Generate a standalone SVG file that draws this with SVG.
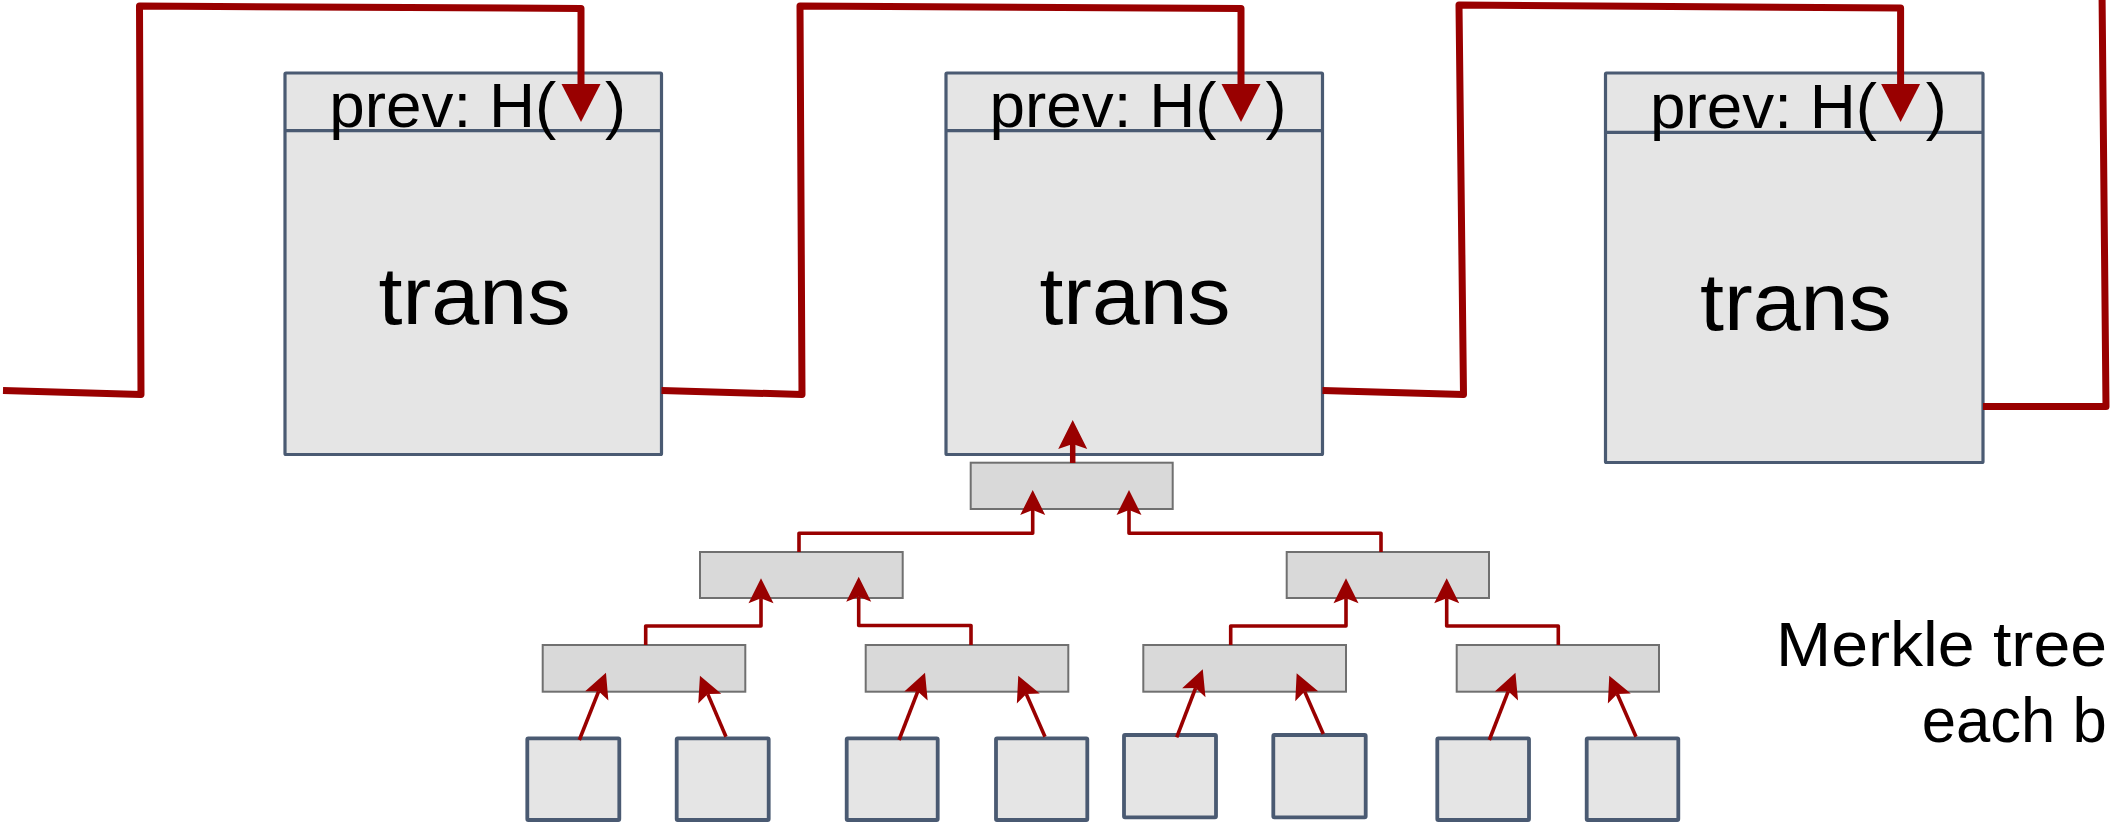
<svg xmlns="http://www.w3.org/2000/svg" width="2111" height="823" viewBox="0 0 2111 823">
  <defs>
    <style>
      .block { fill: #e5e5e5; stroke: #4a5a72; stroke-width: 3.2; }
      .divider { stroke: #4a5a72; stroke-width: 3.2; }
      .hash { fill: #d9d9d9; stroke: #707070; stroke-width: 2; }
      .leaf { fill: #e5e5e5; stroke: #4a5a72; stroke-width: 3.8; }
      .label { font-family: "Liberation Sans", Arial, sans-serif; fill: #000; }
      .hdr { font-size: 63px; }
      .big { font-size: 82px; }
      .chain { fill: none; stroke: #990000; stroke-width: 7; stroke-linejoin: round; }
      .edge { fill: none; stroke: #990000; stroke-width: 3.6; stroke-linejoin: round; }
      .root { fill: none; stroke: #990000; stroke-width: 5.5; }
    </style>
    <marker id="headBig" markerUnits="userSpaceOnUse" orient="auto" refX="0" refY="0" markerWidth="40" markerHeight="40" viewBox="0 -20 40 40" overflow="visible">
      <path d="M38,0 L0,-19.5 L0,19.5 Z" fill="#990000"/>
    </marker>
    <marker id="headRoot" markerUnits="userSpaceOnUse" orient="auto" refX="5" refY="0" markerWidth="30" markerHeight="30" viewBox="0 -15 30 30" overflow="visible">
      <path d="M29,0 L0,-14.5 L5,0 L0,14.5 Z" fill="#990000"/>
    </marker>
    <marker id="headS" markerUnits="userSpaceOnUse" orient="auto" refX="5" refY="0" markerWidth="26" markerHeight="26" viewBox="0 -13 26 26" overflow="visible">
      <path d="M25,0 L0,-12.5 L5,0 L0,12.5 Z" fill="#990000"/>
    </marker>
  </defs>

  <rect x="0" y="0" width="2111" height="823" fill="#ffffff"/>

  <!-- chain blocks -->
  <g id="block1">
    <rect class="block" x="285" y="73" width="376.5" height="381.5" rx="1"/>
    <line class="divider" x1="285" y1="130.7" x2="661.5" y2="130.7"/>
    <text class="label hdr" x="329.3" y="126.7" textLength="227" lengthAdjust="spacingAndGlyphs">prev: H(</text>
    <text class="label hdr" x="605" y="126.7">)</text>
    <text class="label big" x="378.6" y="324" textLength="192" lengthAdjust="spacingAndGlyphs">trans</text>
  </g>
  <g id="block2">
    <rect class="block" x="946" y="73" width="376.5" height="381.5" rx="1"/>
    <line class="divider" x1="946" y1="130.7" x2="1322.5" y2="130.7"/>
    <text class="label hdr" x="989.5" y="126.7" textLength="227" lengthAdjust="spacingAndGlyphs">prev: H(</text>
    <text class="label hdr" x="1265.5" y="126.7">)</text>
    <text class="label big" x="1039.5" y="323.5" textLength="191" lengthAdjust="spacingAndGlyphs">trans</text>
  </g>
  <g id="block3">
    <rect class="block" x="1605.5" y="73" width="377.5" height="389.5" rx="1"/>
    <line class="divider" x1="1605.5" y1="132.3" x2="1983" y2="132.3"/>
    <text class="label hdr" x="1650" y="128.3" textLength="227" lengthAdjust="spacingAndGlyphs">prev: H(</text>
    <text class="label hdr" x="1925.7" y="128.3">)</text>
    <text class="label big" x="1700" y="330" textLength="191.7" lengthAdjust="spacingAndGlyphs">trans</text>
  </g>

  <!-- Merkle tree hash nodes -->
  <g id="hash-root"><rect class="hash" x="970.7" y="462.7" width="202" height="46.3"/></g>
  <g id="hash-l"><rect class="hash" x="700" y="552" width="202.7" height="46"/></g>
  <g id="hash-r"><rect class="hash" x="1286.7" y="552" width="202.3" height="46"/></g>
  <g id="hash-ll"><rect class="hash" x="542.7" y="645" width="202.6" height="46.7"/></g>
  <g id="hash-lr"><rect class="hash" x="865.7" y="645" width="202.6" height="46.7"/></g>
  <g id="hash-rl"><rect class="hash" x="1143.3" y="645" width="202.7" height="46.7"/></g>
  <g id="hash-rr"><rect class="hash" x="1456.7" y="645" width="202.3" height="46.7"/></g>

  <!-- transactions (leaves) -->
  <g id="tx1"><rect class="leaf" x="527.3" y="738.3" width="92" height="81.7" rx="1"/></g>
  <g id="tx2"><rect class="leaf" x="676.7" y="738.3" width="92" height="81.7" rx="1"/></g>
  <g id="tx3"><rect class="leaf" x="846.7" y="738.3" width="91" height="81.7" rx="1"/></g>
  <g id="tx4"><rect class="leaf" x="996" y="738.3" width="91.3" height="81.7" rx="1"/></g>
  <g id="tx5"><rect class="leaf" x="1124" y="735" width="92" height="82.3" rx="1"/></g>
  <g id="tx6"><rect class="leaf" x="1273.3" y="735" width="92.4" height="82.3" rx="1"/></g>
  <g id="tx7"><rect class="leaf" x="1437.3" y="738.3" width="91.7" height="81.7" rx="1"/></g>
  <g id="tx8"><rect class="leaf" x="1586.7" y="738.3" width="91.6" height="81.7" rx="1"/></g>

  <!-- caption -->
  <g id="caption">
    <text class="label hdr" x="1776" y="665.7" textLength="331" lengthAdjust="spacingAndGlyphs">Merkle tree</text>
    <text class="label hdr" x="1921.7" y="741.7" textLength="185" lengthAdjust="spacingAndGlyphs">each b</text>
  </g>

  <!-- connectors -->
  <g id="connectors">
    <!-- hash-pointer chain -->
    <path class="chain" d="M3,390.5 L141,394.5 L139.5,6 L581,8.5 L581,84" marker-end="url(#headBig)"/>
    <path class="chain" d="M661.5,390.5 L802,394.5 L800,6 L1241,8.5 L1241,84" marker-end="url(#headBig)"/>
    <path class="chain" d="M1322.5,390.5 L1463.5,394.5 L1459,5 L1900.6,8 L1900.6,84" marker-end="url(#headBig)"/>
    <path class="chain" d="M1983,406.5 L2106,406.5 L2102,-10"/>

    <!-- Merkle root into block -->
    <path class="root" d="M1072.7,463 V444" marker-end="url(#headRoot)"/>

    <!-- level 2 into root -->
    <path class="edge" d="M799,552 V533.3 H1032.7 V510" marker-end="url(#headS)"/>
    <path class="edge" d="M1381,552 V533.3 H1129 V510" marker-end="url(#headS)"/>

    <!-- level 3 into level 2 -->
    <path class="edge" d="M645.7,645 V626 H761 V598.3" marker-end="url(#headS)"/>
    <path class="edge" d="M971,645 V625.5 H858.7 V596.7" marker-end="url(#headS)"/>
    <path class="edge" d="M1230.7,645 V626 H1346 V598.3" marker-end="url(#headS)"/>
    <path class="edge" d="M1558.3,645 V626 H1446.7 V598.3" marker-end="url(#headS)"/>

    <!-- transactions into level 3 -->
    <path class="edge" d="M579.3,740 L598.6,691.3" marker-end="url(#headS)"/>
    <path class="edge" d="M726,736.7 L707.8,694.1" marker-end="url(#headS)"/>
    <path class="edge" d="M899,740 L917.8,691.4" marker-end="url(#headS)"/>
    <path class="edge" d="M1045,736.7 L1026.3,694" marker-end="url(#headS)"/>
    <path class="edge" d="M1176.7,737.3 L1195.6,688" marker-end="url(#headS)"/>
    <path class="edge" d="M1323.3,734 L1304.7,691.6" marker-end="url(#headS)"/>
    <path class="edge" d="M1489.3,740 L1508.2,691.3" marker-end="url(#headS)"/>
    <path class="edge" d="M1636,736.7 L1617.3,694" marker-end="url(#headS)"/>
  </g>
</svg>
